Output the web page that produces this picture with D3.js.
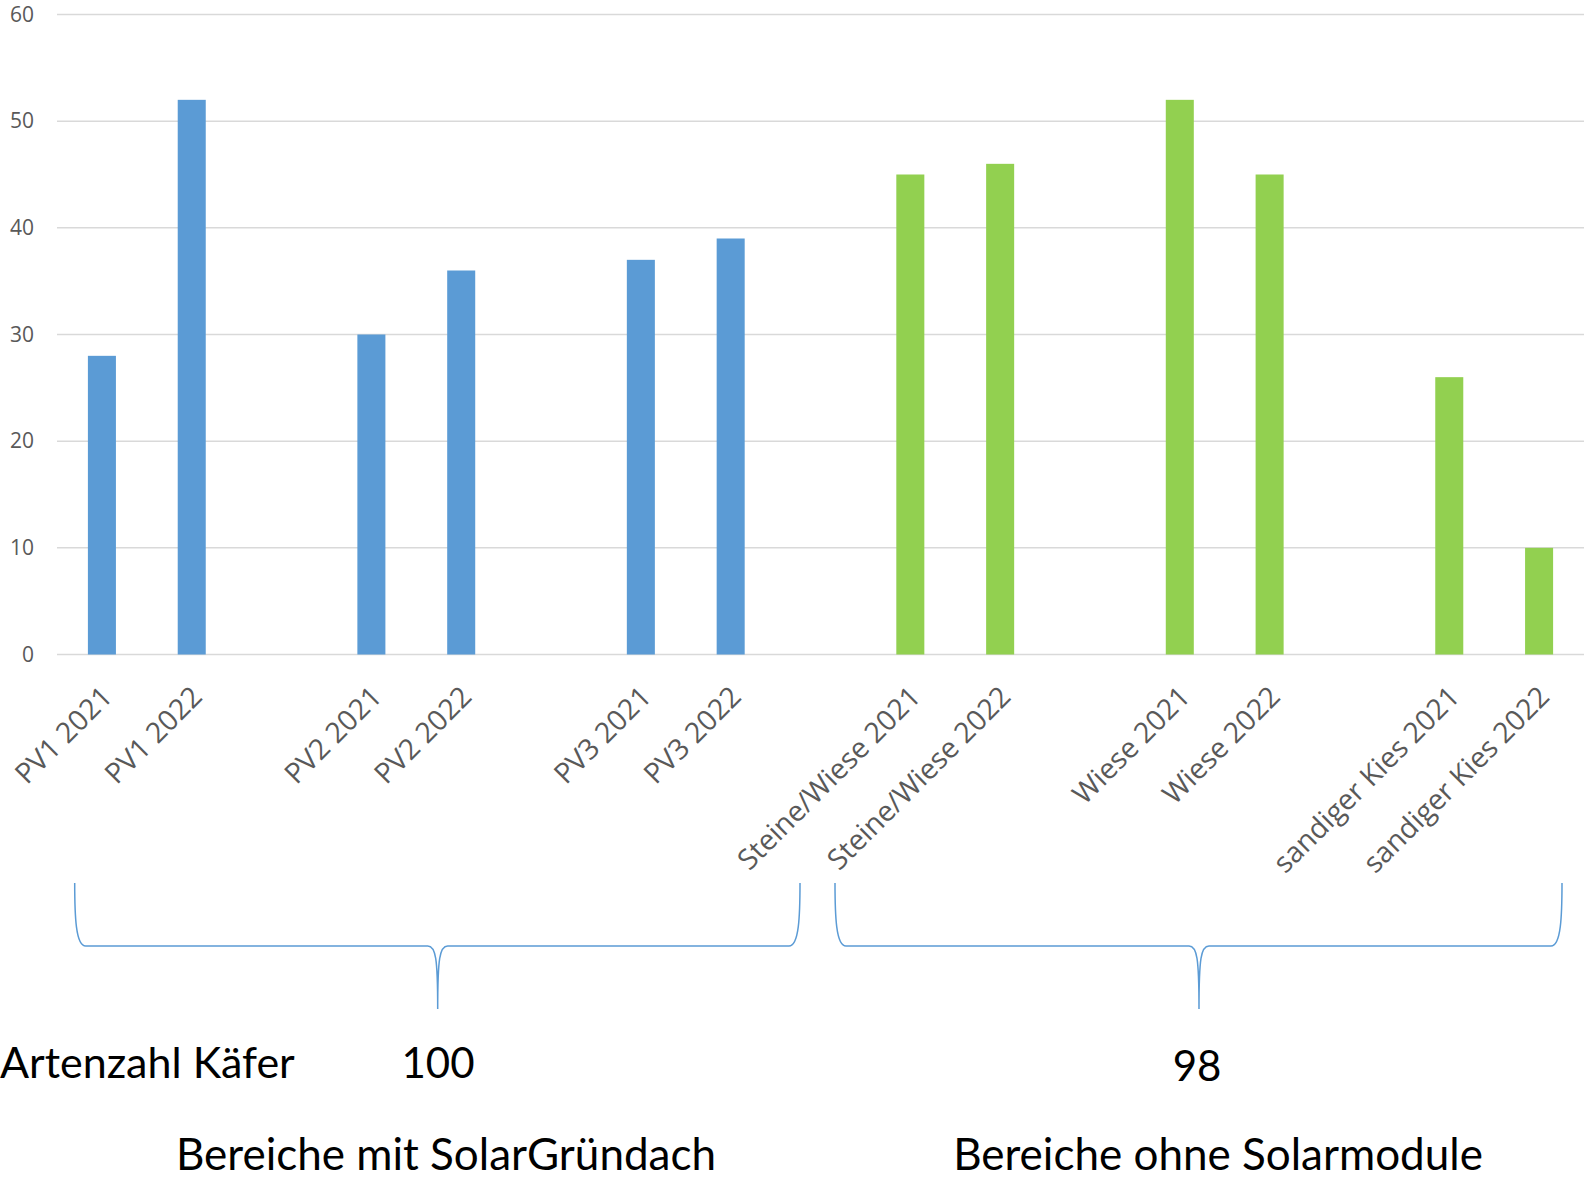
<!DOCTYPE html>
<html>
<head>
<meta charset="utf-8">
<script src="https://cdn.jsdelivr.net/npm/d3@7"></script>
<style>
  html, body { margin: 0; padding: 0; background: #fff; }
  svg { display: block; }
</style>
</head>
<body>
<svg id="chart" width="1584" height="1178"></svg>
<script>
// Beetle species counts per survey plot and year (empty slots separate the plots)
const categories = [
  "PV1 2021", "PV1 2022", "",
  "PV2 2021", "PV2 2022", "",
  "PV3 2021", "PV3 2022", "",
  "Steine/Wiese 2021", "Steine/Wiese 2022", "",
  "Wiese 2021", "Wiese 2022", "",
  "sandiger Kies 2021", "sandiger Kies 2022"
];
const speciesCounts = [28, 52, null, 30, 36, null, 37, 39, null, 45, 46, null, 52, 45, null, 26, 10];
const areaType = ["solar", "solar", null, "solar", "solar", null, "solar", "solar", null,
                  "open", "open", null, "open", "open", null, "open", "open"];
const yTicks = [0, 10, 20, 30, 40, 50, 60];

// Summary rows below the chart
const rowLabel = "Artenzahl Käfer";
const areaTotals = ["100", "98"];
const areaLabels = ["Bereiche mit SolarGründach", "Bereiche ohne Solarmodule"];

const colors = { solar: "#5B9BD5", open: "#92D050" };

const svg = d3.select("#chart");
const plot = { left: 57, right: 1584, top: 14.5, bottom: 654.5 };

const x = d3.scaleBand()
  .domain(d3.range(categories.length))
  .range([plot.left, plot.right])
  .paddingInner(0.688)
  .paddingOuter(0.344);

const y = d3.scaleLinear().domain([0, 60]).range([plot.bottom, plot.top]);

// Horizontal gridlines
svg.append("g")
  .selectAll("line")
  .data(yTicks)
  .join("line")
  .attr("x1", plot.left)
  .attr("x2", plot.right)
  .attr("y1", d => y(d))
  .attr("y2", d => y(d))
  .attr("stroke", "#D9D9D9")
  .attr("stroke-width", 1.5);

// Y axis labels
const yAxis = d3.axisLeft(y).tickValues(yTicks).tickSize(0).tickPadding(0);
svg.append("g")
  .attr("transform", `translate(${plot.left - 23},0)`)
  .call(yAxis)
  .call(g => g.select(".domain").remove())
  .call(g => g.selectAll("text")
    .attr("font-family", "'Open Sans', sans-serif")
    .attr("font-size", 21)
    .attr("fill", "#595959"));

// Bars
const barData = speciesCounts
  .map((v, i) => ({ i, v, type: areaType[i] }))
  .filter(d => d.v !== null);

svg.append("g")
  .selectAll("rect")
  .data(barData)
  .join("rect")
  .attr("x", d => x(d.i))
  .attr("width", x.bandwidth())
  .attr("y", d => y(d.v))
  .attr("height", d => y(0) - y(d.v))
  .attr("fill", d => colors[d.type]);

// Rotated category labels
const xAxis = d3.axisBottom(x).tickFormat(i => categories[i]).tickSize(0).tickPadding(0);
svg.append("g")
  .attr("transform", `translate(0,${plot.bottom})`)
  .call(xAxis)
  .call(g => g.select(".domain").remove())
  .call(g => g.selectAll("text")
    .attr("font-family", "'Open Sans', sans-serif")
    .attr("font-size", 28.5)
    .attr("fill", "#595959")
    .attr("text-anchor", "end")
    .attr("dy", "0.35em")
    .attr("transform", "translate(5,37) rotate(-45)"));

// Curly braces grouping the two kinds of areas
const braces = [
  { x0: 74.7, xm: 437.7, x1: 800 },
  { x0: 835, xm: 1199, x1: 1562 }
];
const braceTop = 883, braceMid = 946, braceTip = 1009;
function bracePath(b) {
  return `M${b.x0},${braceTop}`
    + ` C${b.x0},${braceMid - 30} ${b.x0 + 1},${braceMid} ${b.x0 + 11},${braceMid}`
    + ` L${b.xm - 10},${braceMid}`
    + ` C${b.xm - 2},${braceMid} ${b.xm},${braceMid + 12} ${b.xm},${braceTip}`
    + ` M${b.xm},${braceTip}`
    + ` C${b.xm},${braceMid + 12} ${b.xm + 2},${braceMid} ${b.xm + 10},${braceMid}`
    + ` L${b.x1 - 11},${braceMid}`
    + ` C${b.x1 - 1},${braceMid} ${b.x1},${braceMid - 30} ${b.x1},${braceTop}`;
}
svg.append("g")
  .selectAll("path")
  .data(braces)
  .join("path")
  .attr("d", bracePath)
  .attr("fill", "none")
  .attr("stroke", "#5B9BD5")
  .attr("stroke-width", 1.5);

// Totals and area descriptions
const textStyle = sel => sel
  .attr("font-family", "Lato, sans-serif")
  .attr("font-size", 44)
  .attr("fill", "#000");

svg.append("text")
  .attr("x", 0).attr("y", 1078)
  .text(rowLabel)
  .call(textStyle)
  .attr("font-size", 43);

svg.append("g")
  .selectAll("text")
  .data(areaTotals)
  .join("text")
  .attr("x", (d, i) => [438, 1197][i])
  .attr("y", (d, i) => [1078, 1081][i])
  .attr("text-anchor", "middle")
  .text(d => d)
  .call(textStyle)
  .attr("font-size", 42);

svg.append("g")
  .selectAll("text")
  .data(areaLabels)
  .join("text")
  .attr("x", (d, i) => [446, 1218][i])
  .attr("y", 1170)
  .attr("text-anchor", "middle")
  .text(d => d)
  .call(textStyle);
</script>
</body>
</html>
